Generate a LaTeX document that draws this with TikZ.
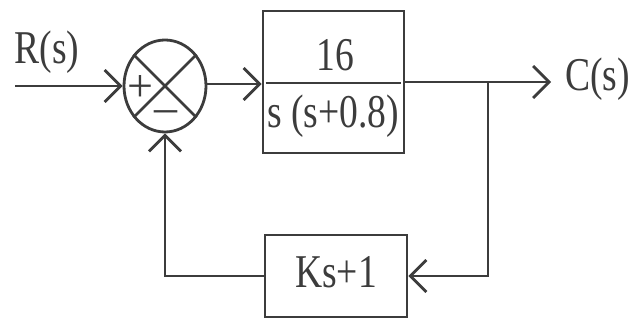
\documentclass[tikz,border=0pt]{standalone}
\usepackage{fontspec}
\setmainfont{Liberation Serif}
\usetikzlibrary{shapes.geometric,arrows.meta}
\definecolor{ink}{HTML}{3C3C3C}
\newcommand{\bigtxt}[1]{\scalebox{0.8}[1]{\fontsize{47}{50}\selectfont #1}}
\tikzset{
  ln/.style={draw=ink,line width=2.8pt},
  arr/.style={ln,-{Straight Barb[length=16pt,width=32pt,line width=2.8pt]}},
  blk/.style={draw=ink,line width=2.8pt,rectangle,inner sep=0pt},
  lbl/.style={text=ink,inner sep=0pt},
}
\begin{document}
\begin{tikzpicture}[x=1pt,y=-1pt]
\useasboundingbox (0,0) rectangle (635,320);
% summing junction
\node[draw=ink,line width=2.8pt,ellipse,minimum width=82pt,minimum height=92pt,inner sep=0pt] (c) at (165,86) {};
\draw[ln] (c.135) -- (c.-45);
\draw[ln] (c.45) -- (c.-135);
\node[lbl,font=\fontsize{46}{46}\selectfont] (plus) at (140,89) {+};
\node[lbl,font=\fontsize{46}{46}\selectfont] (minus) at (166,117) {–};
% forward block
\node[blk,minimum width=141pt,minimum height=142pt] (g) at (333.5,82) {};
\draw[ln] ([xshift=4pt,yshift=-1pt]g.west) -- ([xshift=-4pt,yshift=-1pt]g.east);
\node[lbl] (num) at (335,55) {\bigtxt{16}};
\node[lbl] (den) at (333,116) {\bigtxt{s (s+0.8)}};
% feedback block
\node[blk,minimum width=142pt,minimum height=82pt] (h) at (336,276) {};
\node[lbl] (hk) at (336,272) {\bigtxt{Ks+1}};
% labels
\node[lbl] (R) at (47,52) {\bigtxt{R(s)}};
\node[lbl,anchor=west] (C) at (565,79) {\bigtxt{C(s)}};
% connectors
\coordinate (in) at (15,86);
\coordinate (out) at (551,82);
\coordinate (br) at (488,82);
\draw[arr] (in) -- (c.west);
\draw[arr] (c.east |- 0,84) -- (g.west |- 0,84);
\draw[arr] (g.east) -- (out);
\draw[arr] (br) |- (h.east);
\draw[arr] (h.west) -| (c.south);
\end{tikzpicture}
\end{document}
